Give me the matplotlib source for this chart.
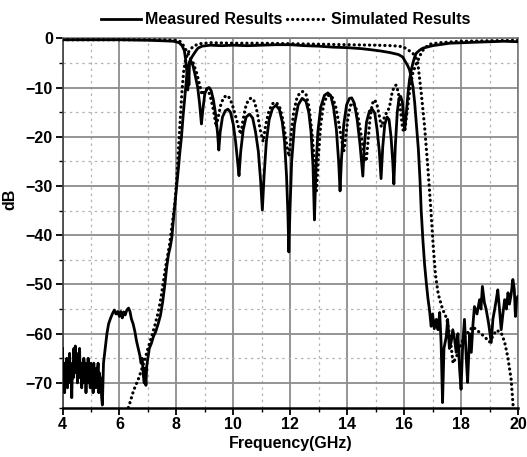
import matplotlib
matplotlib.use('Agg')
import matplotlib.pyplot as plt
import numpy as np
from matplotlib.ticker import MultipleLocator

plt.rcParams['font.family'] = ['Liberation Sans', 'DejaVu Sans']
plt.rcParams['font.weight'] = 'bold'

# measured S21: noisy stopband 4-5.4 GHz (VNA sweep), then traced points
noise_lo = [-63, -70, -66, -72, -67, -69, -65, -71, -66, -68, -64, -70, -67, -73,
            -66, -69, -63, -68, -62.5, -67, -64, -70, -65, -68, -63, -69, -66, -71,
            -67, -70, -65, -68, -66, -72, -67, -69, -65, -70, -68, -71, -66, -69,
            -67, -72, -66, -70, -68, -71, -67, -69, -66, -72, -68, -70, -69, -73]
noise_lo_f = np.linspace(4.0, 5.375, len(noise_lo))

meas21_f = [5.40, 5.44, 5.50, 5.56, 5.62, 5.68, 5.75, 5.82, 5.88, 5.94, 6.00, 6.05, 6.10,
            6.15, 6.20, 6.26, 6.32, 6.37, 6.42, 6.48, 6.54, 6.60, 6.66, 6.72, 6.76, 6.80,
            6.84, 6.87, 6.90, 6.93, 6.96, 7.00, 7.05, 7.12, 7.20, 7.28, 7.36, 7.44, 7.52,
            7.60, 7.66, 7.72, 7.78, 7.84, 7.90, 7.96, 8.01, 8.07, 8.12, 8.18, 8.24, 8.30,
            8.36, 8.41, 8.50, 8.59, 8.68, 8.76, 8.90, 9.20, 9.60, 10.0, 10.5, 11.0, 11.5,
            12.0, 12.5, 13.0, 13.5, 14.0, 14.5, 14.8, 15.2, 15.5, 15.8, 15.95, 16.05, 16.12,
            16.19, 16.25, 16.31, 16.37, 16.43, 16.50, 16.56, 16.60, 16.66, 16.72, 16.78,
            16.84, 16.89, 16.95, 17.00, 17.06, 17.13, 17.19, 17.25, 17.30, 17.35, 17.40,
            17.48, 17.53, 17.59, 17.65, 17.71, 17.77, 17.83, 17.89, 17.95, 18.00, 18.06,
            18.12, 18.18, 18.23, 18.30, 18.36, 18.42, 18.47, 18.56, 18.65, 18.70, 18.75,
            18.82, 18.88, 18.97, 19.06, 19.12, 19.18, 19.24, 19.29, 19.35, 19.41, 19.47,
            19.53, 19.59, 19.65, 19.70, 19.76, 19.82, 19.87, 19.91, 19.95, 19.99]
meas21_db = [-74.5, -66, -63, -60, -58, -57, -56, -55.2, -56, -55.5, -56.5, -55.5, -56.8,
             -55.6, -56.2, -55.2, -54.8, -55.5, -57, -58, -59.5, -61.5, -63, -64.5, -66, -65,
             -68.5, -70, -67, -70.5, -66.5, -65, -63, -62, -60.5, -59.5, -58, -56.3, -53.5,
             -49.8, -46.5, -44, -42.5, -40.5, -36.5, -33, -30, -26.5, -23.3, -20, -15.5, -11.8,
             -8, -5.7, -4.2, -3.4, -2.6, -2.0, -1.6, -1.4, -1.5, -1.4, -1.5, -1.4, -1.3,
             -1.3, -1.5, -1.6, -1.8, -1.9, -2.1, -2.3, -2.6, -2.9, -3.3, -3.8, -4.8, -5.5,
             -6.4, -8, -9.8, -13, -17.5, -22.5, -29, -35, -41, -46, -49.7,
             -53, -55.1, -58.5, -56, -59, -57.1, -59.2, -55.7, -62, -74, -63,
             -60.6, -57.1, -63, -61.8, -59.2, -61, -63.8, -60, -67.3, -71.3, -62,
             -57.1, -64.6, -69.9, -60, -63.8, -58, -54.5, -56, -53.1, -55, -50.4,
             -53.7, -55, -58, -61.8, -57, -55.1, -53, -51.1, -55, -59.2, -56,
             -53.1, -55, -51.7, -54, -52, -49, -51, -56.5, -53, -52.5]

meas11_f = [4.0, 5.0, 6.0, 7.0, 7.5, 7.9, 8.1, 8.2, 8.28, 8.33, 8.37, 8.40, 8.42, 8.44, 8.46,
            8.50, 8.58, 8.66, 8.75, 8.82, 8.88, 8.93, 9.00, 9.08, 9.15, 9.22, 9.30, 9.38,
            9.45, 9.49, 9.54, 9.62, 9.72, 9.81, 9.90, 10.0, 10.08, 10.15, 10.20, 10.26,
            10.35, 10.45, 10.57, 10.68, 10.78, 10.88, 10.96, 11.02, 11.08, 11.16, 11.26,
            11.38, 11.50, 11.62, 11.72, 11.80, 11.87, 11.92, 11.95, 11.99, 12.05, 12.15,
            12.28, 12.42, 12.55, 12.65, 12.73, 12.80, 12.85, 12.90, 12.97, 13.07, 13.20,
            13.32, 13.42, 13.52, 13.62, 13.70, 13.75, 13.80, 13.88, 13.98, 14.08, 14.16,
            14.25, 14.35, 14.45, 14.55, 14.60, 14.68, 14.78, 14.88, 14.97, 15.05, 15.13,
            15.19, 15.25, 15.32, 15.40, 15.47, 15.54, 15.60, 15.64, 15.69, 15.76, 15.82,
            15.88, 15.94, 15.98, 16.02, 16.08, 16.14, 16.19, 16.25, 16.31, 16.37, 16.43,
            16.55, 16.66, 17.0, 17.6, 18.5, 19.5, 20.0]
meas11_db = [-0.3, -0.3, -0.3, -0.4, -0.5, -0.6, -0.9, -1.5, -2.5, -4.5, -7, -10.5, -6, -9.5, -5,
             -4.5, -5.5, -7.5, -10, -13.5, -17.4, -14.5, -11.2, -10.2, -10.0, -10.6, -12.5, -15.5,
             -19.5, -22.7, -19, -16, -14.7, -14.4, -15.0, -17.5, -21, -25, -27.9, -23,
             -18.5, -16, -15.4, -16.2, -19, -23, -29, -34.9, -28, -21, -16.5,
             -14.2, -13.6, -14.5, -17, -21, -28, -36, -43.4, -35, -25, -17.5,
             -13.5, -12.2, -12.8, -15, -19, -26, -36.9, -27, -19, -14, -11.6,
             -11.1, -11.6, -14, -18.5, -25, -31, -24.5, -17.5, -13.5, -12.2, -12.1,
             -13.2, -16.5, -21.5, -28, -22, -17, -14.8, -14.4, -15.2, -18.5, -23,
             -28.5, -22, -17.5, -16, -16.5, -20, -25, -29.6, -22, -15, -12.2,
             -11.8, -13, -16, -18.6, -15, -11, -8.4, -6.5, -5, -3.8, -3,
             -2.4, -2, -1.5, -1.0, -0.8, -0.6, -0.7]

sim21_f = [6.2, 6.37, 6.5, 6.66, 6.78, 6.89, 7.0, 7.13, 7.25, 7.36, 7.46, 7.54, 7.62, 7.71,
           7.77, 7.86, 7.95, 8.02, 8.08, 8.14, 8.2, 8.26, 8.32, 8.4, 8.5, 8.6, 8.8, 9.2, 10,
           11, 12, 13, 14, 15, 15.6, 15.95, 16.1, 16.2, 16.3, 16.4, 16.48, 16.6, 16.72, 16.83,
           16.93, 17.02, 17.1, 17.2, 17.35, 17.5, 17.62, 17.72, 17.85, 18.0, 18.2, 18.41,
           18.6, 18.82, 19.0, 19.12, 19.24, 19.41, 19.53, 19.64, 19.76, 19.82, 19.86]
sim21_db = [-77, -74, -71.5, -69.3, -67.3, -65.3, -63, -60.6, -58.2, -55.7, -52.7, -49.6, -46.5,
            -43.6, -41.5, -37.5, -33.4, -28, -22, -16, -10.5, -6.5, -4.5, -3.0, -2.2, -1.6, -1.1,
            -0.9, -1.0, -1.0, -1.1, -1.2, -1.3, -1.4, -1.5, -1.7, -2.2, -2.6, -3.0, -3.8, -5,
            -11, -18, -26, -34, -42, -48, -52, -55, -57, -61, -66, -64.5, -62, -60, -58.6,
            -59.5, -60.6, -61.7, -60.5, -59.3, -59.8, -61.7, -64.7, -69.3, -74, -77]

sim11_f = [4, 6, 7.5, 8.0, 8.15, 8.22, 8.3, 8.4, 8.5, 8.59, 8.71, 8.82, 8.9, 8.97, 9.05, 9.12,
           9.2, 9.3, 9.4, 9.47, 9.56, 9.66, 9.78, 9.88, 9.98, 10.08, 10.18, 10.26, 10.33,
           10.42, 10.52, 10.63, 10.74, 10.84, 10.94, 11.05, 11.14, 11.25, 11.37, 11.5, 11.62,
           11.72, 11.82, 11.9, 11.96, 12.03, 12.12, 12.24, 12.35, 12.45, 12.56, 12.66, 12.76,
           12.85, 12.92, 12.99, 13.07, 13.17, 13.28, 13.39, 13.5, 13.6, 13.7, 13.8, 13.88,
           13.95, 14.03, 14.12, 14.2, 14.3, 14.4, 14.5, 14.6, 14.67, 14.73, 14.8, 14.88, 14.96,
           15.04, 15.12, 15.2, 15.26, 15.33, 15.42, 15.5, 15.58, 15.66, 15.72, 15.8, 15.88,
           15.95, 16.02, 16.1, 16.2, 16.3, 16.4, 16.5, 16.6, 16.7, 16.89, 17.25, 18, 19, 20]
sim11_db = [-0.3, -0.3, -0.3, -0.4, -0.7, -1.2, -2.0, -3.0, -4.0, -5.0, -7.0, -9.5, -11.5, -10.8,
            -10.3, -10.6, -12, -14.5, -18, -16, -13.5, -12, -11.6, -12.2, -13.8, -15.8, -18,
            -19.5, -17, -14.2, -12.6, -12.1, -12.8, -15, -18.5, -21, -17.5, -14.8, -13.3, -13,
            -13.8, -16, -19.5, -22.5, -24, -19.5, -15, -12, -11, -10.8, -11.5, -14, -19, -25,
            -31, -24, -17.5, -13.5, -11.8, -11.5, -12.2, -14, -17, -20.5, -23, -20, -16, -13.6,
            -13.1, -14, -16.5, -20, -23.5, -25, -21, -16.5, -13.3, -12.5, -13.3, -15.5, -18,
            -17, -15.5, -15, -13.5, -11, -9.7, -9.5, -11, -15, -18.5, -19, -15, -10.5, -7.2,
            -5.5, -4.3, -3.0, -2.1, -1.2, -0.9, -0.6, -0.5, -0.4]

fig = plt.figure(figsize=(5.27, 4.57), dpi=100)
ax = fig.add_axes([0.1186, 0.1083, 0.8643, 0.8079])

dots = (0, (0.05, 1.55))
ax.plot(np.concatenate([noise_lo_f, meas21_f]), np.concatenate([noise_lo, meas21_db]),
        '-', color='black', lw=2.0, label='Measured Results', zorder=4)
ax.plot(meas11_f, meas11_db, '-', color='black', lw=2.0, zorder=4)
ax.plot(sim21_f, sim21_db, color='black', lw=2.3, linestyle=dots, dash_capstyle='round',
        label='Simulated Results', zorder=3)
ax.plot(sim11_f, sim11_db, color='black', lw=2.3, linestyle=dots, dash_capstyle='round',
        zorder=3)

ax.set_xlim(4, 20)
ax.set_ylim(-75, 0)
ax.xaxis.set_major_locator(MultipleLocator(2))
ax.xaxis.set_minor_locator(MultipleLocator(1))
ax.yaxis.set_major_locator(MultipleLocator(10))
ax.yaxis.set_minor_locator(MultipleLocator(5))
ax.grid(which='major', color='#8c8c8c', lw=1.3, ls='-', zorder=0)
ax.grid(which='minor', color='#b4b4b4', lw=0.9, ls=(0, (2, 3)), zorder=0)
ax.set_axisbelow(True)

for s in ['top', 'right', 'left']:
    ax.spines[s].set_color('#7a7a7a')
    ax.spines[s].set_linewidth(1.2)
ax.spines['bottom'].set_color('black')
ax.spines['bottom'].set_linewidth(1.8)
ax.spines['left'].set_color('#404040')

ax.tick_params(which='major', direction='out', length=5, width=1.3, labelsize=11.5, pad=2)
ax.tick_params(which='minor', direction='out', length=3, width=1.0)
ax.set_xlabel('Frequency(GHz)', fontsize=11.5, fontweight='bold', labelpad=3)
ax.set_ylabel('dB', fontsize=11.5, fontweight='bold')
ax.yaxis.set_label_coords(-0.098, 0.565)

ax.legend(loc='lower center', bbox_to_anchor=(0.49, 1.008), ncol=2, frameon=False,
          fontsize=11.5, handlelength=2.5, columnspacing=0.35, handletextpad=0.2,
          borderaxespad=0.1)

fig.savefig('out.png', dpi=100)
